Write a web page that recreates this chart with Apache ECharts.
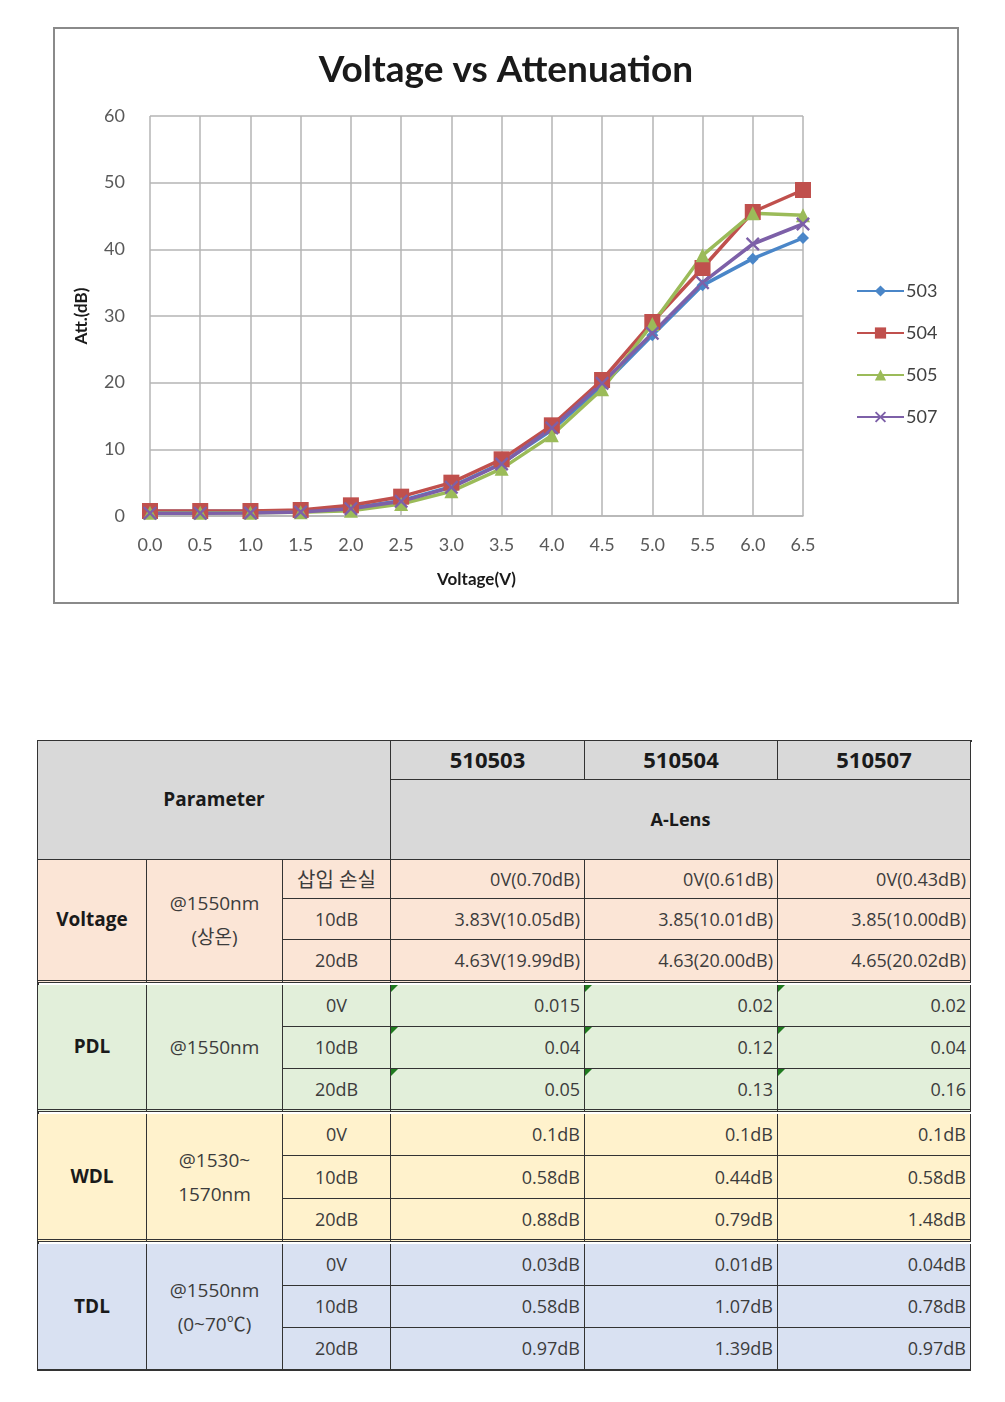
<!DOCTYPE html>
<html><head><meta charset="utf-8">
<script src="https://cdn.jsdelivr.net/npm/echarts@6/dist/echarts.min.js"></script>
<style>
html,body{margin:0;padding:0;background:#fff;}
body{width:1005px;height:1402px;position:relative;overflow:hidden;}
#chart{position:absolute;left:53px;top:27px;width:906px;height:577px;border:2px solid #8a8a8a;box-sizing:border-box;}
#tbl{position:absolute;left:0;top:0;}
.c{position:absolute;box-sizing:border-box;border-right:1.5px solid #333;border-bottom:1.5px solid #333;
  font-family:"Open Sans","Noto Sans CJK KR",sans-serif;font-size:18px;color:#3c3c3c;display:flex;align-items:center;justify-content:center;text-align:center;line-height:1.35;white-space:nowrap;}
.r{justify-content:flex-end;padding-right:4px;}
.b{font-weight:bold;color:#1a1a1a;}
.tri{position:absolute;left:0;top:0;width:0;height:0;border-top:7px solid #1f7a1f;border-right:7px solid transparent;}
</style></head>
<body>
<div id="chart"></div>
<div id="tbl"></div>
<script>
// ---- chart data ----
var voltages = ['0.0','0.5','1.0','1.5','2.0','2.5','3.0','3.5','4.0','4.5','5.0','5.5','6.0','6.5'];
var s503 = [0.70,0.70,0.70,0.75,1.2,2.3,4.4,7.9,12.9,19.5,27.1,34.6,38.6,41.7];
var s504 = [0.75,0.75,0.75,0.9,1.6,2.9,5.0,8.5,13.6,20.4,29.1,37.2,45.6,48.9];
var s505 = [0.5,0.5,0.5,0.55,0.8,1.8,3.7,7.1,12.1,19.0,28.8,39.1,45.4,45.1];
var s507 = [0.43,0.43,0.45,0.6,1.1,2.2,4.3,7.8,13.2,19.9,27.4,35.0,40.8,43.8];
var seriesNames = ['503','504','505','507'];
var yTicks = [0,10,20,30,40,50,60];

// ---- table data ----
var colHeads = ['510503','510504','510507'];
var subHead = 'A-Lens';
var groups = ['Voltage','PDL','WDL','TDL'];
var conditions = [['@1550nm','(상온)'],['@1550nm'],['@1530~','1570nm'],['@1550nm','(0~70℃)']];
var voltageRows = ['삽입 손실','10dB','20dB'];
var levelRows = ['0V','10dB','20dB'];
var voltageVals = [['0V(0.70dB)','0V(0.61dB)','0V(0.43dB)'],['3.83V(10.05dB)','3.85(10.01dB)','3.85(10.00dB)'],['4.63V(19.99dB)','4.63(20.00dB)','4.65(20.02dB)']];
var pdlVals = [['0.015','0.02','0.02'],['0.04','0.12','0.04'],['0.05','0.13','0.16']];
var wdlVals = [['0.1dB','0.1dB','0.1dB'],['0.58dB','0.44dB','0.58dB'],['0.88dB','0.79dB','1.48dB']];
var tdlVals = [['0.03dB','0.01dB','0.04dB'],['0.58dB','1.07dB','0.78dB'],['0.97dB','1.39dB','0.97dB']];

var crossPath = 'path://M0,1.2L1.2,0L5,3.8L8.8,0L10,1.2L6.2,5L10,8.8L8.8,10L5,6.2L1.2,10L0,8.8L3.8,5Z';
var colors = ['#4a86c8','#c0504d','#9bbb59','#7d60a8'];
var symbols = ['diamond','rect','triangle',crossPath];
var sizes = [12,16,14,14];
var dataSets = [s503,s504,s505,s507];

var chart = echarts.init(document.getElementById('chart'));
var font = 'Lato, "Open Sans", sans-serif';
chart.setOption({
  animation:false,
  title:{text:'Voltage vs Attenuation',left:'center',top:18,
    textStyle:{fontSize:37,fontWeight:'bold',color:'#1a1a1a',fontFamily:font}},
  grid:{left:95,top:87,width:653,height:400,containLabel:false},
  legend:{orient:'vertical',left:796,top:248,itemWidth:47,itemHeight:14,itemGap:24,
    data:seriesNames,textStyle:{fontSize:18,color:'#404040',fontFamily:font,padding:[0,0,0,-3]}},
  xAxis:{type:'category',data:voltages,boundaryGap:false,
    name:'Voltage(V)',nameLocation:'middle',nameGap:55,
    nameTextStyle:{fontSize:17,fontWeight:'bold',color:'#1a1a1a',fontFamily:font},
    axisLine:{lineStyle:{color:'#b5b5b5',width:1.5}},axisTick:{show:false},
    axisLabel:{fontSize:18,color:'#595959',margin:20,fontFamily:font,interval:0},
    splitLine:{show:true,interval:0,lineStyle:{color:'#b5b5b5',width:1.5}}},
  yAxis:{type:'value',min:yTicks[0],max:yTicks[yTicks.length-1],interval:10,
    name:'Att.(dB)',nameLocation:'middle',nameRotate:90,nameGap:60,
    nameTextStyle:{fontSize:17,fontWeight:'bold',color:'#1a1a1a',fontFamily:font},
    axisLine:{show:false},axisTick:{show:false},
    axisLabel:{fontSize:18,color:'#595959',margin:25,fontFamily:font},
    splitLine:{lineStyle:{color:'#b5b5b5',width:1.5}}},
  series:seriesNames.map(function(n,i){
    return {name:n,type:'line',data:dataSets[i],symbol:symbols[i],symbolSize:sizes[i],
      lineStyle:{color:colors[i],width:3.5},itemStyle:{color:colors[i]}};
  })
});

// ---- table ----
var xs = [38,147,283,391,585,778,971];
var tbl = document.getElementById('tbl');
function cell(c0,c1,y0,y1,html,cls,bg,extra){
  var d=document.createElement('div');
  d.className='c '+(cls||'');
  d.style.left=xs[c0]+'px';d.style.top=y0+'px';
  d.style.width=(xs[c1]-xs[c0])+'px';d.style.height=(y1-y0)+'px';
  d.style.background=bg;
  if(extra) for(var k in extra) d.style[k]=extra[k];
  d.innerHTML=html;
  tbl.appendChild(d);
  return d;
}
var hdrBg='#d9d9d9';
var ob=document.createElement('div');
ob.style.cssText='position:absolute;left:37px;top:740px;width:935px;height:631px;border-left:2px solid #333;border-top:2px solid #333;box-sizing:border-box;';
tbl.appendChild(ob);
cell(0,3,741,860,'Parameter','b',hdrBg,{fontSize:'19px'});
for(var i=0;i<3;i++) cell(3+i,4+i,741,780,colHeads[i],'b',hdrBg,{fontSize:'22px'});
cell(3,6,780,860,subHead,'b',hdrBg,{fontSize:'18px'});

var groupY=[[860,899,940,983],[985,1027,1069,1112],[1114,1156,1199,1242],[1244,1286,1328,1371]];
var bgs=['#fbe5d6','#e2efda','#fff2cc','#d9e1f2'];
var vals=[voltageVals,pdlVals,wdlVals,tdlVals];
for(var g=0;g<4;g++){
  var ys=groupY[g];
  var sep = g<3 ? {borderBottom:'3px double #333'} : {borderBottom:'2px solid #333'};
  cell(0,1,ys[0],ys[3],groups[g],'b',bgs[g],Object.assign({fontSize:'19px'},sep));
  cell(1,2,ys[0],ys[3],conditions[g].join('<br>'),'',bgs[g],Object.assign({fontSize:'19px',lineHeight:'34px'},sep));
  var labels = g===0?voltageRows:levelRows;
  for(var r=0;r<3;r++){
    var st = r===2?sep:{};
    cell(2,3,ys[r],ys[r+1],labels[r],'',bgs[g],Object.assign({fontSize:(g===0&&r===0)?'20px':'18px'},st));
    for(var c=0;c<3;c++){
      var d=cell(3+c,4+c,ys[r],ys[r+1],vals[g][r][c],'r',bgs[g],Object.assign({fontSize:'18px'},st));
      if(g===1){var t=document.createElement('div');t.className='tri';d.appendChild(t);}
    }
  }
}
</script>
</body></html>
